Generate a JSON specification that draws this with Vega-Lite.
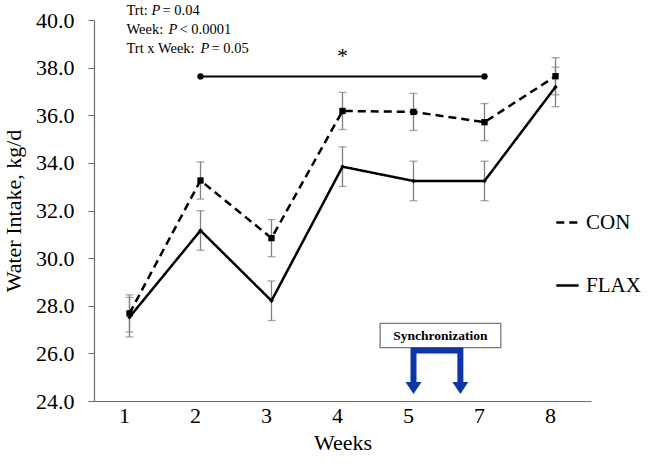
{
  "$schema": "https://vega.github.io/schema/vega-lite/v6.json",
  "width": 497,
  "height": 381,
  "autosize": {"type": "none"},
  "padding": {"left": 94, "top": 20, "right": 59, "bottom": 70},
  "background": "white",
  "config": {
    "view": {"stroke": null},
    "font": "Liberation Serif",
    "legend": {"labelFont": "Liberation Serif", "labelFontSize": 21, "labelColor": "black"}
  },
  "datasets": {
    "intake": [
      {"Week": "1", "Trt": "CON", "Intake": 27.68, "SE": 0.78},
      {"Week": "2", "Trt": "CON", "Intake": 33.26, "SE": 0.78},
      {"Week": "3", "Trt": "CON", "Intake": 30.84, "SE": 0.78},
      {"Week": "4", "Trt": "CON", "Intake": 36.18, "SE": 0.78},
      {"Week": "5", "Trt": "CON", "Intake": 36.14, "SE": 0.78},
      {"Week": "7", "Trt": "CON", "Intake": 35.71, "SE": 0.78},
      {"Week": "8", "Trt": "CON", "Intake": 37.64, "SE": 0.78},
      {"Week": "1", "Trt": "FLAX", "Intake": 27.52, "SE": 0.83},
      {"Week": "2", "Trt": "FLAX", "Intake": 31.16, "SE": 0.83},
      {"Week": "3", "Trt": "FLAX", "Intake": 28.21, "SE": 0.83},
      {"Week": "4", "Trt": "FLAX", "Intake": 33.84, "SE": 0.83},
      {"Week": "5", "Trt": "FLAX", "Intake": 33.24, "SE": 0.83},
      {"Week": "7", "Trt": "FLAX", "Intake": 33.24, "SE": 0.83},
      {"Week": "8", "Trt": "FLAX", "Intake": 37.19, "SE": 0.83}
    ],
    "sig": [
      {"Week": "2", "y": 37.63},
      {"Week": "7", "y": 37.63}
    ],
    "star": [{"Week": "4", "y": 38.2, "label": "*"}],
    "bracket": [
      {"pos": 5.0, "y": 24.78, "o": 1},
      {"pos": 5.0, "y": 26.12, "o": 2},
      {"pos": 5.66, "y": 26.12, "o": 3},
      {"pos": 5.66, "y": 24.78, "o": 4}
    ],
    "heads": [
      {"pos": 5.0, "y": 24.55},
      {"pos": 5.66, "y": 24.55}
    ],
    "box": [{"x1": 4.53, "x2": 6.23, "y1": 26.24, "y2": 27.26, "xm": 5.38, "ym": 26.75, "label": "Synchronization"}],
    "notes": [
      {"line": 1, "pre": "Trt: ", "post": "= 0.04", "y": 40.22},
      {"line": 2, "pre": "Week: ", "post": "< 0.0001", "y": 39.42},
      {"line": 3, "pre": "Trt x Week: ", "post": "= 0.05", "y": 38.62}
    ]
  },
  "layer": [
    {
      "layer": [
        {
          "data": {"name": "intake"},
          "mark": {"type": "errorbar", "ticks": {"size": 8, "color": "#808080", "strokeWidth": 1.3}, "color": "#808080", "thickness": 1.3},
          "encoding": {
            "x": {"field": "Week", "type": "ordinal", "title": "Weeks"},
            "y": {"field": "Intake", "type": "quantitative", "title": "Water Intake, kg/d"},
            "yError": {"field": "SE"}
          }
        },
        {
          "data": {"name": "intake"},
          "mark": {"type": "line", "color": "black", "strokeWidth": 2.5},
          "encoding": {
            "x": {
              "field": "Week", "type": "ordinal",
              "scale": {"type": "point", "padding": 0.5, "domain": ["1", "2", "3", "4", "5", "7", "8"]},
              "title": "Weeks",
              "axis": {
                "labelAngle": 0, "labelFont": "Liberation Serif", "labelFontSize": 22, "labelColor": "black",
                "labelPadding": 14, "ticks": false, "domainColor": "#6b6b6b", "domainWidth": 1.2,
                "titleFont": "Liberation Serif", "titleFontSize": 22, "titleFontWeight": "normal", "titleColor": "black",
                "titlePadding": 6, "grid": false
              }
            },
            "y": {
              "field": "Intake", "type": "quantitative",
              "scale": {"domain": [24, 40], "zero": false, "nice": false},
              "title": "Water Intake, kg/d",
              "axis": {
                "values": [24, 26, 28, 30, 32, 34, 36, 38, 40], "format": ".1f",
                "labelFont": "Liberation Serif", "labelFontSize": 22, "labelColor": "black",
                "labelPadding": 14, "tickSize": 6, "tickColor": "#6b6b6b", "domainColor": "#6b6b6b", "domainWidth": 1.2,
                "titleFont": "Liberation Serif", "titleFontSize": 22, "titleFontWeight": "normal", "titleColor": "black",
                "titlePadding": 10, "grid": false
              }
            },
            "strokeDash": {
              "field": "Trt", "type": "nominal",
              "scale": {"domain": ["CON", "FLAX"], "range": [[8, 5], [1, 0]]},
              "legend": {
                "title": null, "orient": "none", "legendX": 461, "legendY": 190,
                "symbolType": "stroke", "symbolSize": 500, "symbolStrokeWidth": 2.5, "symbolStrokeColor": "black",
                "labelFont": "Liberation Serif", "labelFontSize": 21, "labelColor": "black", "labelOffset": 6,
                "rowPadding": 40
              }
            }
          }
        },
        {
          "data": {"name": "intake"},
          "transform": [{"filter": "datum.Trt == 'CON'"}],
          "mark": {"type": "point", "shape": "square", "filled": true, "color": "black", "size": 40, "opacity": 1},
          "encoding": {
            "x": {"field": "Week", "type": "ordinal", "title": "Weeks"},
            "y": {"field": "Intake", "type": "quantitative", "title": "Water Intake, kg/d"}
          }
        },
        {
          "data": {"name": "intake"},
          "transform": [{"filter": "datum.Trt == 'FLAX'"}],
          "mark": {"type": "point", "shape": "diamond", "filled": true, "color": "black", "size": 20, "opacity": 1},
          "encoding": {
            "x": {"field": "Week", "type": "ordinal", "title": "Weeks"},
            "y": {"field": "Intake", "type": "quantitative", "title": "Water Intake, kg/d"}
          }
        },
        {
          "data": {"name": "sig"},
          "mark": {"type": "line", "color": "black", "strokeWidth": 2, "point": {"filled": true, "color": "black", "size": 40}},
          "encoding": {
            "x": {"field": "Week", "type": "ordinal", "title": "Weeks"},
            "y": {"field": "y", "type": "quantitative", "title": "Water Intake, kg/d"}
          }
        },
        {
          "data": {"name": "star"},
          "mark": {"type": "text", "fontSize": 22, "font": "Liberation Serif", "color": "black", "baseline": "alphabetic"},
          "encoding": {
            "x": {"field": "Week", "type": "ordinal", "title": "Weeks"},
            "y": {"field": "y", "type": "quantitative", "title": "Water Intake, kg/d"},
            "text": {"field": "label"}
          }
        },
        {
          "data": {"name": "notes"},
          "mark": {"type": "text", "fontSize": 14.5, "font": "Liberation Serif", "color": "black", "align": "left", "baseline": "alphabetic", "dx": -3},
          "encoding": {
            "x": {"datum": "1", "type": "ordinal", "title": "Weeks"},
            "y": {"field": "y", "type": "quantitative", "title": "Water Intake, kg/d"},
            "text": {"field": "pre"}
          }
        },
        {
          "data": {"name": "notes"},
          "transform": [{"filter": "datum.line == 1"}],
          "mark": {"type": "text", "fontSize": 14.5, "font": "Liberation Serif", "fontStyle": "italic", "color": "black", "align": "left", "baseline": "alphabetic", "dx": 22},
          "encoding": {"x": {"datum": "1", "type": "ordinal", "title": "Weeks"}, "y": {"field": "y", "type": "quantitative", "title": "Water Intake, kg/d"}, "text": {"value": "P"}}
        },
        {
          "data": {"name": "notes"},
          "transform": [{"filter": "datum.line == 1"}],
          "mark": {"type": "text", "fontSize": 14.5, "font": "Liberation Serif", "color": "black", "align": "left", "baseline": "alphabetic", "dx": 33},
          "encoding": {"x": {"datum": "1", "type": "ordinal", "title": "Weeks"}, "y": {"field": "y", "type": "quantitative", "title": "Water Intake, kg/d"}, "text": {"field": "post"}}
        },
        {
          "data": {"name": "notes"},
          "transform": [{"filter": "datum.line == 2"}],
          "mark": {"type": "text", "fontSize": 14.5, "font": "Liberation Serif", "fontStyle": "italic", "color": "black", "align": "left", "baseline": "alphabetic", "dx": 39},
          "encoding": {"x": {"datum": "1", "type": "ordinal", "title": "Weeks"}, "y": {"field": "y", "type": "quantitative", "title": "Water Intake, kg/d"}, "text": {"value": "P"}}
        },
        {
          "data": {"name": "notes"},
          "transform": [{"filter": "datum.line == 2"}],
          "mark": {"type": "text", "fontSize": 14.5, "font": "Liberation Serif", "color": "black", "align": "left", "baseline": "alphabetic", "dx": 50},
          "encoding": {"x": {"datum": "1", "type": "ordinal", "title": "Weeks"}, "y": {"field": "y", "type": "quantitative", "title": "Water Intake, kg/d"}, "text": {"field": "post"}}
        },
        {
          "data": {"name": "notes"},
          "transform": [{"filter": "datum.line == 3"}],
          "mark": {"type": "text", "fontSize": 14.5, "font": "Liberation Serif", "fontStyle": "italic", "color": "black", "align": "left", "baseline": "alphabetic", "dx": 71},
          "encoding": {"x": {"datum": "1", "type": "ordinal", "title": "Weeks"}, "y": {"field": "y", "type": "quantitative", "title": "Water Intake, kg/d"}, "text": {"value": "P"}}
        },
        {
          "data": {"name": "notes"},
          "transform": [{"filter": "datum.line == 3"}],
          "mark": {"type": "text", "fontSize": 14.5, "font": "Liberation Serif", "color": "black", "align": "left", "baseline": "alphabetic", "dx": 82},
          "encoding": {"x": {"datum": "1", "type": "ordinal", "title": "Weeks"}, "y": {"field": "y", "type": "quantitative", "title": "Water Intake, kg/d"}, "text": {"field": "post"}}
        }
      ]
    },
    {
      "layer": [
        {
          "data": {"name": "box"},
          "mark": {"type": "rect", "fill": "white", "stroke": "#7a7a7a", "strokeWidth": 1.3},
          "encoding": {
            "x": {"field": "x1", "type": "quantitative", "scale": {"domain": [0.5, 7.5], "nice": false, "zero": false}, "axis": null},
            "x2": {"field": "x2"},
            "y": {"field": "y1", "type": "quantitative", "title": "Water Intake, kg/d"},
            "y2": {"field": "y2"}
          }
        },
        {
          "data": {"name": "box"},
          "mark": {"type": "text", "font": "Liberation Serif", "fontWeight": "bold", "fontSize": 13.5, "color": "black", "baseline": "middle"},
          "encoding": {
            "x": {"field": "xm", "type": "quantitative", "axis": null},
            "y": {"field": "ym", "type": "quantitative", "title": "Water Intake, kg/d"},
            "text": {"field": "label"}
          }
        },
        {
          "data": {"name": "bracket"},
          "mark": {"type": "line", "color": "#0d35a6", "strokeWidth": 6, "strokeJoin": "miter", "strokeCap": "butt"},
          "encoding": {
            "x": {"field": "pos", "type": "quantitative", "axis": null},
            "y": {"field": "y", "type": "quantitative", "title": "Water Intake, kg/d"},
            "order": {"field": "o"}
          }
        },
        {
          "data": {"name": "heads"},
          "mark": {"type": "point", "shape": "M-1,-0.75L1,-0.75L0,0.75Z", "filled": true, "color": "#0d35a6", "size": 256, "opacity": 1},
          "encoding": {
            "x": {"field": "pos", "type": "quantitative", "axis": null},
            "y": {"field": "y", "type": "quantitative", "title": "Water Intake, kg/d"}
          }
        }
      ]
    }
  ],
  "resolve": {"scale": {"x": "independent"}, "axis": {"x": "independent"}}
}
